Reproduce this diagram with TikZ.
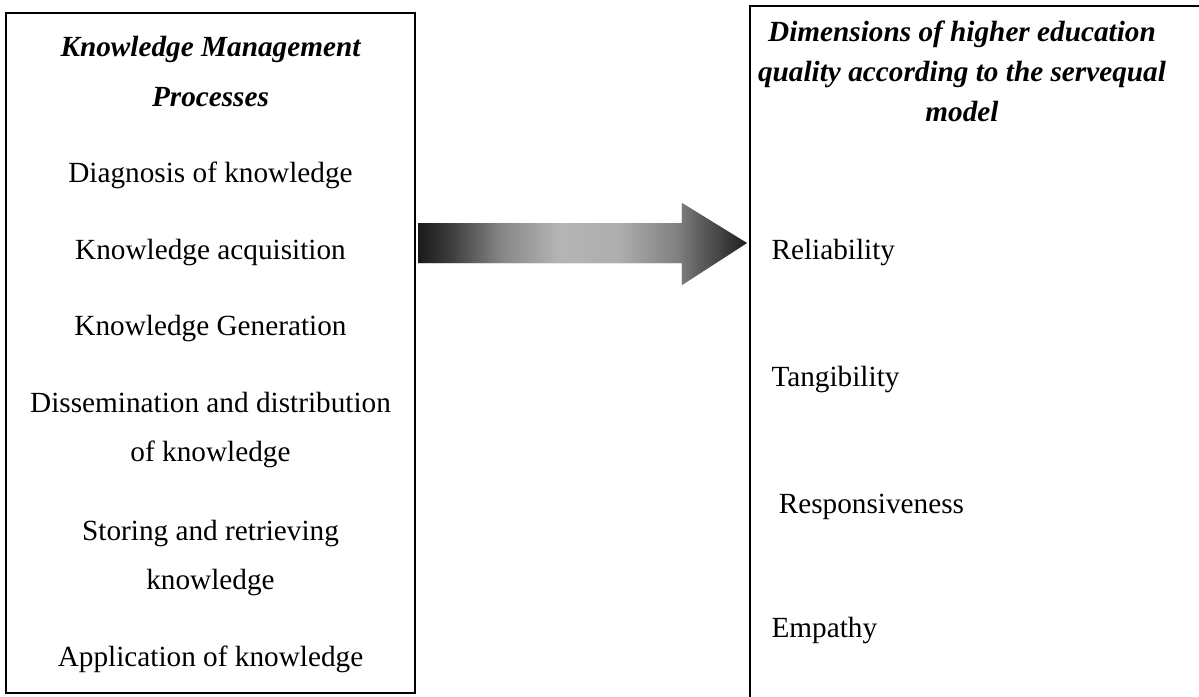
\documentclass[tikz,border=0pt]{standalone}
\usepackage{fontspec}
\setmainfont{Liberation Serif}
\usetikzlibrary{calc,fit}

% left-to-right grey ramp of the connecting block arrow
% (TikZ maps a path's bounding box onto the 25bp--75bp band)
\pgfdeclarehorizontalshading{arrowgrad}{100bp}{%
  color(0bp)=(black!90);
  color(25bp)=(black!90);
  color(30bp)=(black!76);
  color(37.5bp)=(black!48);
  color(46.5bp)=(black!29);
  color(55.5bp)=(black!32);
  color(64.5bp)=(black!50);
  color(67.5bp)=(black!62);
  color(75bp)=(black!88);
  color(100bp)=(black!88)}

\tikzset{
  panel/.style={draw=black, line width=0.85pt, inner sep=0pt, fit=#1},
  txt/.style={anchor=base, inner sep=0pt, font=\fontsize{11.7}{14}\selectfont},
  head/.style={txt, font=\fontsize{11.7}{14}\selectfont\bfseries\itshape},
  item/.style={txt, anchor=base west},
}

\begin{document}
\begin{tikzpicture}[x=0.4pt, y=-0.4pt]
\useasboundingbox (0,0) rectangle (1199,696);
\clip (0,0) rectangle (1199,696);

% the two panels
\coordinate (kmnw) at (6,13);
\coordinate (kmse) at (415,693);
\node[panel={(kmnw)(kmse)}] (kmbox) {};
\coordinate (sqnw) at (750,6);
\coordinate (sqse) at (1230,730);
\node[panel={(sqnw)(sqse)}] (sqbox) {};

% knowledge management processes
\node[head] (kmt1) at (210.5,56) {Knowledge Management};
\node[head] (kmt2) at (210.5,106) {Processes};
\node[txt] (km1) at (210.5,182) {Diagnosis of knowledge};
\node[txt] (km2) at (210.5,259) {Knowledge acquisition};
\node[txt] (km3) at (210.5,335) {Knowledge Generation};
\node[txt] (km4a) at (210.5,412) {Dissemination and distribution};
\node[txt] (km4b) at (210.5,461) {of knowledge};
\node[txt] (km5a) at (210.5,540) {Storing and retrieving};
\node[txt] (km5b) at (210.5,589) {knowledge};
\node[txt] (km6) at (210.5,666) {Application of knowledge};

% servqual dimensions
\node[head] (sqt1) at (962,41) {Dimensions of higher education};
\node[head] (sqt2) at (962,81) {quality according to the servequal};
\node[head] (sqt3) at (962,121) {model};
\node[item] (sq1) at (771,259) {Reliability};
\node[item] (sq2) at (771,386) {Tangibility};
\node[item] (sq3) at (771,513) {\ Responsiveness};
\node[item] (sq4) at (771,637) {Empathy};

% block arrow from one panel to the other
\coordinate (arrlevel) at (0,243);
\coordinate (tail) at (kmbox.east |- arrlevel);
\coordinate (tip) at (sqbox.west |- arrlevel);
\begin{scope}[shift={(3,5)}]
  \fill[black!48]
    ($(tail)+(2,-20)$) -- ($(tip)+(-67,-20)$) -- ($(tip)+(-67,-40)$)
    -- ($(tip)+(-2,0)$) -- ($(tip)+(-67,42)$) -- ($(tip)+(-67,20)$)
    -- ($(tail)+(2,20)$) -- cycle;
\end{scope}
\shade[shading=arrowgrad]
  ($(tail)+(2,-20)$) -- ($(tip)+(-67,-20)$) -- ($(tip)+(-67,-40)$)
  -- ($(tip)+(-2,0)$) -- ($(tip)+(-67,42)$) -- ($(tip)+(-67,20)$)
  -- ($(tail)+(2,20)$) -- cycle;
\end{tikzpicture}
\end{document}
